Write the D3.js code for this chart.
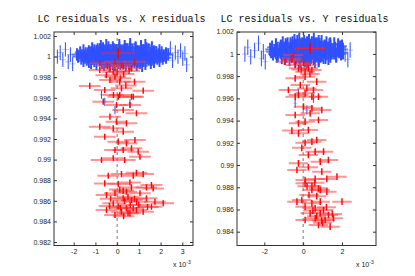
<!DOCTYPE html>
<html><head><meta charset="utf-8">
<script src="https://cdn.jsdelivr.net/npm/d3@7"></script>
<style>body{margin:0;background:#fff} svg{display:block}</style>
</head><body>
<svg id="chart" width="415" height="276"></svg>
<script>
// x values are in units of 1e-3 (the axes show "x 10^-3")
const titles = ["LC residuals vs. X residuals", "LC residuals vs. Y residuals"]
const xTicksLeft = [-2, -1, 0, 1, 2, 3]
const yTicksLeft = [0.982, 0.984, 0.986, 0.988, 0.99, 0.992, 0.994, 0.996, 0.998, 1, 1.002]
const xTicksRight = [-2, 0, 2]
const yTicksRight = [0.984, 0.986, 0.988, 0.99, 0.992, 0.994, 0.996, 0.998, 1, 1.002]

// bright stars: [x, y]
const blueLeft = [
 [-0.75,1.0010],[-0.5,1.0011],[-0.2,1.0009],[0.1,1.0011],[0.35,1.0010],[0.6,1.0012],[0.85,1.0009],[1.1,1.0010],[1.3,1.0011],
 [-1.15,1.0008],[-0.9,1.0007],[-0.65,1.0008],[-0.4,1.0009],[-0.15,1.0007],[0.1,1.0008],[0.35,1.0007],[0.6,1.0009],[0.85,1.0008],[1.1,1.0007],[1.35,1.0008],[1.6,1.0009],
 [-1.55,1.0006],[-1.3,1.0005],[-1.05,1.0006],[-0.8,1.0007],[-0.55,1.0005],[-0.3,1.0006],[-0.05,1.0006],[0.2,1.0005],[0.45,1.0007],[0.7,1.0006],[0.95,1.0005],[1.2,1.0006],[1.45,1.0007],[1.7,1.0005],[1.95,1.0006],
 [-1.7,1.0004],[-1.45,1.0003],[-1.2,1.0004],[-0.95,1.0005],[-0.7,1.0003],[-0.45,1.0004],[-0.2,1.0004],[0.05,1.0003],[0.3,1.0005],[0.55,1.0004],[0.8,1.0003],[1.05,1.0004],[1.3,1.0005],[1.55,1.0003],[1.8,1.0004],[2.05,1.0004],[2.25,1.0003],
 [-1.85,1.0002],[-1.6,1.0001],[-1.35,1.0002],[-1.1,1.0003],[-0.85,1.0001],[-0.6,1.0002],[-0.35,1.0002],[-0.1,1.0001],[0.15,1.0003],[0.4,1.0002],[0.65,1.0001],[0.9,1.0002],[1.15,1.0003],[1.4,1.0001],[1.65,1.0002],[1.9,1.0002],[2.15,1.0001],[2.35,1.0002],
 [-1.8,1.0000],[-1.5,0.9999],[-1.25,1.0000],[-1.0,1.0001],[-0.75,0.9999],[-0.5,1.0000],[-0.25,1.0000],[0.0,0.9999],[0.25,1.0001],[0.5,1.0000],[0.75,0.9999],[1.0,1.0000],[1.25,1.0001],[1.5,0.9999],[1.75,1.0000],[2.0,1.0000],[2.25,0.9999],
 [-1.65,0.9998],[-1.4,0.9997],[-1.15,0.9998],[-0.9,0.9999],[-0.65,0.9997],[-0.4,0.9998],[-0.15,0.9998],[0.1,0.9997],[0.35,0.9999],[0.6,0.9998],[0.85,0.9997],[1.1,0.9998],[1.35,0.9999],[1.6,0.9997],[1.85,0.9998],[2.1,0.9998],
 [-1.55,0.9996],[-1.3,0.9995],[-1.05,0.9996],[-0.8,0.9997],[-0.55,0.9995],[-0.3,0.9996],[-0.05,0.9996],[0.2,0.9995],[0.45,0.9997],[0.7,0.9996],[0.95,0.9995],[1.2,0.9996],[1.45,0.9997],[1.7,0.9995],[1.95,0.9996],
 [-1.2,0.9994],[-0.95,0.9993],[-0.7,0.9994],[-0.45,0.9995],[-0.2,0.9993],[0.05,0.9994],[0.3,0.9994],[0.55,0.9993],[0.8,0.9995],[1.05,0.9994],[1.3,0.9993],[1.55,0.9994],
 [-0.6,0.9992],[-0.35,0.9991],[-0.1,0.9992],[0.15,0.9993],[0.4,0.9991],[0.65,0.9992],[0.9,0.9992],[1.15,0.9991]
]
const blueOutLeft = [
 [-2.75,1.0000],[-2.62,1.0004],[-2.5,0.9997],[-2.38,1.0007],[-2.25,0.9995],[-2.15,1.0002],[-2.05,0.9993],
 [2.45,1.0008],[2.55,0.9996],[2.68,1.0004],[2.8,1.0000],[2.92,1.0006],[3.02,0.9998],[3.12,1.0003],[3.2,0.9992]
]
const blueStrayLeft = [[-0.72,0.9963],[-0.57,0.9956],[-0.1,0.9948],[0.59,0.99547]]
// faint stars: [x, y]
const redLeft = [
 [-0.1,0.9995],[-0.8,0.99935],[0.8,0.9995],[-0.33,0.99886],[0.28,0.99902],[0.66,0.99886],[-0.8,0.9987],[-0.18,0.99853],
 [-0.1,0.99805],[-0.33,0.99773],[0.8,0.99756],[0.12,0.99756],[-1.26,0.99715],[0.2,0.99692],[-0.57,0.99676],[1.2,0.99669],
 [-0.17,0.99627],[0.05,0.9961],[0.74,0.9961],[0.12,0.99627],[0.66,0.9961],[-0.03,0.9953],[-0.64,0.99562],[0.59,0.9953],
 [0.28,0.99482],[0.89,0.9945],[-0.33,0.99417],[-0.03,0.99368],[0.43,0.99352],[-0.8,0.9932],[-0.18,0.99304],[0.28,0.99271],
 [-0.57,0.99222],[0.05,0.99174],[0.43,0.99158],[0.82,0.9919],[0.66,0.99109],[0.28,0.99093],[-0.1,0.99093],[0.97,0.99077],
 [-0.72,0.98996],[-0.18,0.99013],[0.35,0.98996],[1.05,0.99028],[0.89,0.98872],[0.74,0.98843],[-0.41,0.98843],[0.2,0.98859],
 [1.2,0.98859],[-0.57,0.98769],[0.05,0.98762],[0.59,0.98778],[1.35,0.9873],[1.66,0.9872],[0.28,0.98697],[0.12,0.98709],
 [0.66,0.9873],[1.58,0.98753],[-0.49,0.98656],[-0.1,0.98673],[0.43,0.98688],[1.05,0.98673],[0.28,0.98624],[0.66,0.98608],
 [1.35,0.98624],[2.12,0.98576],[1.74,0.98591],[-0.18,0.98576],[0.05,0.98543],[0.43,0.98527],[0.89,0.98511],[1.2,0.98494],
 [0.59,0.98478],[0.2,0.98494],[-0.1,0.98462],[0.74,0.98527],[-0.49,0.98511],[1.58,0.98543],
 [0.35,0.98600],[0.9,0.98590],[0.5,0.98640],[-0.3,0.98620],[1.0,0.98560],[0.15,0.98530],[0.6,0.98560],[0.3,0.98450],
 [1.4,0.98540],[-0.35,0.98550],[0.8,0.98620],[0.5,0.98480],[0.3,0.99830],[0.55,0.99860],[-0.5,0.99820],[0.15,0.99790],
 [0.0,0.99850],[0.4,0.99720],[0.2,0.99920],[-0.45,0.99910]
]
const redTopLeft = [[0.05,1.00032]]

const blueRight = [
 [-0.45,1.0012],[-0.2,1.0013],[0.05,1.0011],[0.3,1.0012],[0.55,1.0013],[0.8,1.0011],
 [-1.05,1.0010],[-0.8,1.0009],[-0.55,1.0010],[-0.3,1.0011],[-0.05,1.0009],[0.2,1.0010],[0.45,1.0010],[0.7,1.0009],[0.95,1.0011],[1.2,1.0010],[1.4,1.0009],
 [-1.4,1.0008],[-1.15,1.0007],[-0.9,1.0008],[-0.65,1.0009],[-0.4,1.0007],[-0.15,1.0008],[0.1,1.0008],[0.35,1.0007],[0.6,1.0009],[0.85,1.0008],[1.1,1.0007],[1.35,1.0008],[1.6,1.0009],[1.8,1.0008],
 [-1.6,1.0006],[-1.35,1.0005],[-1.1,1.0006],[-0.85,1.0007],[-0.6,1.0005],[-0.35,1.0006],[-0.1,1.0006],[0.15,1.0005],[0.4,1.0007],[0.65,1.0006],[0.9,1.0005],[1.15,1.0006],[1.4,1.0007],[1.65,1.0005],[1.9,1.0006],[2.0,1.0007],
 [-1.7,1.0004],[-1.45,1.0003],[-1.2,1.0004],[-0.95,1.0005],[-0.7,1.0003],[-0.45,1.0004],[-0.2,1.0004],[0.05,1.0003],[0.3,1.0005],[0.55,1.0004],[0.8,1.0003],[1.05,1.0004],[1.3,1.0005],[1.55,1.0003],[1.8,1.0004],[2.05,1.0004],
 [-1.65,1.0002],[-1.4,1.0001],[-1.15,1.0002],[-0.9,1.0003],[-0.65,1.0001],[-0.4,1.0002],[-0.15,1.0002],[0.1,1.0001],[0.35,1.0003],[0.6,1.0002],[0.85,1.0001],[1.1,1.0002],[1.35,1.0003],[1.6,1.0001],[1.85,1.0002],[2.05,1.0001],
 [-1.55,1.0000],[-1.3,0.9999],[-1.05,1.0000],[-0.8,1.0001],[-0.55,0.9999],[-0.3,1.0000],[-0.05,1.0000],[0.2,0.9999],[0.45,1.0001],[0.7,1.0000],[0.95,0.9999],[1.2,1.0000],[1.45,1.0001],[1.7,0.9999],[1.95,1.0000],
 [-1.35,0.9998],[-1.1,0.9997],[-0.85,0.9998],[-0.6,0.9999],[-0.35,0.9997],[-0.1,0.9998],[0.15,0.9998],[0.4,0.9997],[0.65,0.9999],[0.9,0.9998],[1.15,0.9997],[1.4,0.9998],[1.7,0.9998],
 [-0.95,0.9996],[-0.7,0.9995],[-0.45,0.9996],[-0.2,0.9997],[0.05,0.9995],[0.3,0.9996],[0.55,0.9996],[0.8,0.9995],[1.05,0.9997],[1.3,0.9996],
 [-0.4,0.9994],[-0.15,0.9993],[0.1,0.9994],[0.35,0.9995],[0.6,0.9993],[0.8,0.9994]
]
const blueOutRight = [
 [-3.0,1.0000],[-2.85,1.0006],[-2.7,0.99975],[-2.5,1.0003],[-2.3,1.00096],[-2.15,0.9996],[-2.05,1.0002],[-1.95,0.9993],
 [2.16,1.0000],[2.3,0.9995],[2.42,1.00035]
]
const blueStrayRight = [[-0.41,0.99555],[-0.24,0.99645],[0.53,0.9960],[0.19,0.99495]]
const redRight = [
 [-0.5,0.9999],[-0.58,0.99945],[-0.93,0.9993],[0.02,0.99916],[-0.41,0.999],[-0.24,0.9987],[0.27,0.9987],[0.1,0.9984],
 [0.45,0.99855],[-0.41,0.9978],[0.1,0.99795],[0.7,0.9975],[-0.15,0.9972],[0.19,0.99689],[0.53,0.99675],[-0.24,0.9963],
 [0.79,0.99615],[-0.76,0.99675],[-0.41,0.99615],[0.1,0.99645],[0.45,0.99615],[0.02,0.99525],[0.45,0.9951],[0.96,0.99495],
 [0.36,0.99465],[-0.41,0.9945],[0.79,0.99405],[-0.24,0.99375],[0.1,0.9939],[-0.58,0.9931],[-0.24,0.99285],[0.27,0.99315],
 [0.45,0.9921],[0.1,0.992],[0.7,0.99225],[-0.07,0.99155],[0.62,0.9912],[1.05,0.9912],[0.27,0.9909],[0.88,0.9903],
 [-0.24,0.99015],[1.3,0.99045],[0.27,0.9898],[-0.32,0.98955],[0.96,0.9894],[1.74,0.98895],[0.62,0.98875],[0.1,0.98865],
 [1.22,0.98875],[0.45,0.9881],[0.79,0.9879],[0.1,0.98836],[0.45,0.98775],[0.88,0.98775],[1.22,0.9876],[-0.07,0.98685],
 [0.45,0.98655],[0.88,0.9867],[2.0,0.9867],[0.1,0.98625],[0.62,0.9861],[1.05,0.98595],[0.36,0.98565],[0.88,0.98565],
 [1.3,0.9855],[0.62,0.9852],[1.13,0.98505],[1.56,0.9852],[0.79,0.9846],[1.39,0.98445],[0.1,0.98505],[-0.32,0.9867],
 [0.7,0.98540],[1.0,0.98480],[0.5,0.98590],[1.2,0.98620],[0.3,0.98730],[0.7,0.98720],[0.95,0.98500],[1.5,0.98560],
 [0.2,0.98810],[0.6,0.98840],[-0.1,0.99860],[0.35,0.99820],[0.2,0.99900],[-0.6,0.99960]
]
const redTopRight = [[0.36,1.0005]]

// error bar half sizes: [x (1e-3), y]
const blueErr = [0.25, 0.0006]
const blueOutErr = [0.15, 0.0007]
const blueStrayErr = [0.1, 0.0004]
const redErr = [0.5, 0.0003]
const redTopErr = [0.8, 0.0005]

const svg = d3.select("#chart")
const fmt = v => String(+v.toFixed(3))

const panels = [
  {title: titles[0], box: [54, 32, 193, 245.5], xt: xTicksLeft, yt: yTicksLeft,
   x: d3.scaleLinear().domain([-2, 3]).range([73.7, 182.3]),
   y: d3.scaleLinear().domain([0.982, 1.002]).range([242, 36]),
   blue: blueLeft, blueOut: blueOutLeft, stray: blueStrayLeft, red: redLeft, redTop: redTopLeft},
  {title: titles[1], box: [237, 32, 376, 245.5], xt: xTicksRight, yt: yTicksRight,
   x: d3.scaleLinear().domain([-2, 2]).range([264.3, 342]),
   y: d3.scaleLinear().domain([0.984, 1.002]).range([231.7, 31.7]),
   blue: blueRight, blueOut: blueOutRight, stray: blueStrayRight, red: redRight, redTop: redTopRight}
]

function errBars(g, data, err, x, y, hColor, hWidth, vColor, vWidth){
  g.append("g").selectAll("line").data(data).enter().append("line")
    .attr("x1", d => x(d[0] - err[0])).attr("x2", d => x(d[0] + err[0]))
    .attr("y1", d => y(d[1])).attr("y2", d => y(d[1]))
    .attr("stroke", hColor).attr("stroke-width", hWidth)
  g.append("g").selectAll("line").data(data).enter().append("line")
    .attr("x1", d => x(d[0])).attr("x2", d => x(d[0]))
    .attr("y1", d => y(d[1] - err[1])).attr("y2", d => y(d[1] + err[1]))
    .attr("stroke", vColor).attr("stroke-width", vWidth)
}

panels.forEach(p => {
  const [l, t, r, b] = p.box
  const g = svg.append("g")
  const clip = "clip" + l
  g.append("clipPath").attr("id", clip).append("rect")
    .attr("x", l).attr("y", t).attr("width", r - l).attr("height", b - t)
  const plot = g.append("g").attr("clip-path", `url(#${clip})`)

  errBars(plot, p.blueOut, blueOutErr, p.x, p.y, "rgba(120,140,255,0.5)", 1, "#3a5cff", 1.1)
  errBars(plot, p.stray, blueStrayErr, p.x, p.y, "rgba(120,140,255,0.5)", 1, "#3a5cff", 1.1)
  errBars(plot, p.blue, blueErr, p.x, p.y, "rgba(70,100,255,0.85)", 2, "#3050ff", 2)

  // zero line
  plot.append("line")
    .attr("x1", p.x(0)).attr("x2", p.x(0)).attr("y1", t).attr("y2", b)
    .attr("stroke", "#555").attr("stroke-width", 0.8).attr("stroke-dasharray", "3,3")

  errBars(plot, p.red, redErr, p.x, p.y, "rgba(255,60,60,0.55)", 2, "#ff0a0a", 1.5)
  errBars(plot, p.redTop, redTopErr, p.x, p.y, "rgba(255,30,30,0.85)", 1.5, "#ff0000", 1.5)

  // axes box
  g.append("rect").attr("x", l).attr("y", t).attr("width", r - l).attr("height", b - t)
    .attr("fill", "none").attr("stroke", "#333").attr("stroke-width", 1)

  const axes = [
    [d3.axisLeft(p.y).tickValues(p.yt).tickFormat(fmt), `translate(${l},0)`],
    [d3.axisRight(p.y).tickValues(p.yt).tickFormat(""), `translate(${r},0)`],
    [d3.axisBottom(p.x).tickValues(p.xt).tickFormat(d => d), `translate(0,${b})`],
    [d3.axisTop(p.x).tickValues(p.xt).tickFormat(""), `translate(0,${t})`]
  ]
  axes.forEach(([ax, tr], i) => {
    const a = g.append("g").attr("transform", tr)
      .call(ax.tickSize(-3).tickSizeOuter(0).tickPadding(i == 2 ? 4 : 3))
    a.select(".domain").remove()
    a.selectAll("line").attr("stroke", "#333")
    a.selectAll("text").attr("fill", "#222")
      .style("font-family", "'Liberation Sans', Arial, sans-serif").style("font-size", "7px")
  })

  g.append("text").attr("x", (l + r) / 2 - 2).attr("y", 22).attr("text-anchor", "middle")
    .style("font-family", "'Liberation Mono', 'Courier New', monospace").style("font-size", "10px")
    .attr("fill", "#111").text(p.title)

  const ex = g.append("text").attr("x", r - 20).attr("y", 267)
    .style("font-family", "'Liberation Sans', Arial, sans-serif").style("font-size", "7px").attr("fill", "#222")
  ex.append("tspan").text("x 10")
  ex.append("tspan").attr("dy", -3).style("font-size", "5px").text("-3")
})
</script>
</body></html>
